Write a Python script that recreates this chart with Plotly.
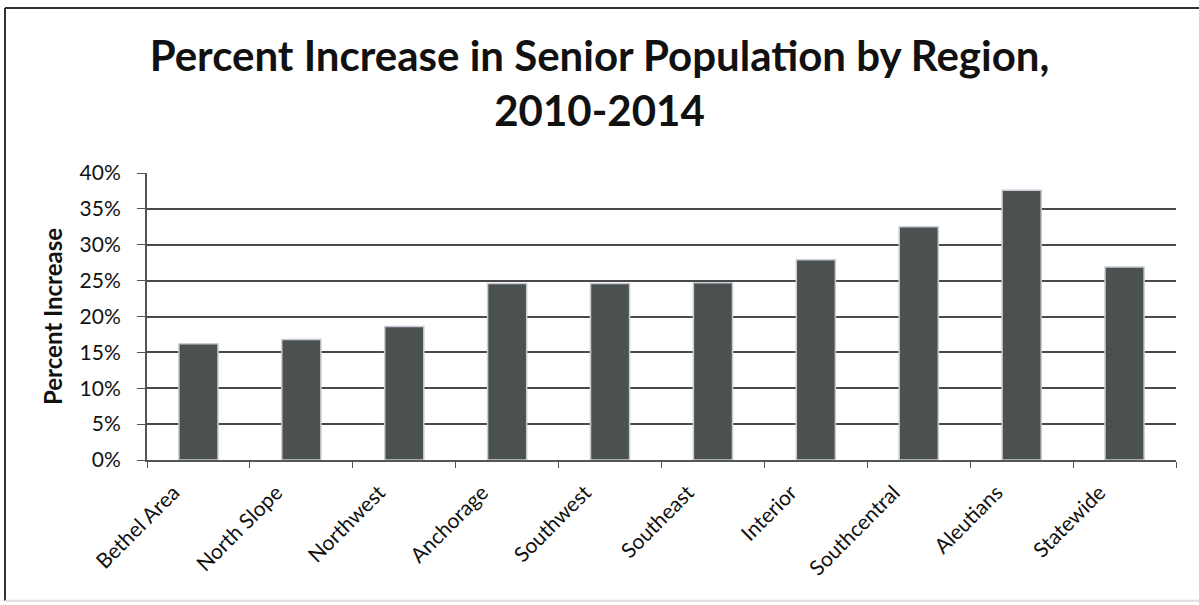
import plotly.graph_objects as go

regions = ["Bethel Area", "North Slope", "Northwest", "Anchorage", "Southwest",
           "Southeast", "Interior", "Southcentral", "Aleutians", "Statewide"]
pct_increase = [0.162, 0.168, 0.186, 0.246, 0.246, 0.247, 0.279, 0.325, 0.376, 0.269]
y_ticks = [0, 0.05, 0.10, 0.15, 0.20, 0.25, 0.30, 0.35, 0.40]

FONT = "Lato, 'Open Sans', sans-serif"

fig = go.Figure(
    data=[
        go.Bar(
            x=regions,
            y=pct_increase,
            width=0.38,
            marker=dict(color="#4b514f", line=dict(color="#c9cbd6", width=1.5)),
        )
    ]
)

# frame around the chart (top and left dark, bottom faint, right runs off the page)
frame = [
    dict(x0=-0.138, x1=1.1, y0=1.575, y1=1.575, color="#333333"),
    dict(x0=-0.138, x1=-0.138, y0=1.575, y1=-0.49, color="#333333"),
    dict(x0=-0.138, x1=1.1, y0=-0.49, y1=-0.49, color="#dddddd"),
]
shapes = [
    dict(type="line", xref="paper", yref="paper",
         x0=f["x0"], x1=f["x1"], y0=f["y0"], y1=f["y1"],
         line=dict(color=f["color"], width=2))
    for f in frame
]

fig.update_layout(
    width=1199,
    height=605,
    margin=dict(l=147, r=23, t=173, b=145, autoexpand=False),
    plot_bgcolor="white",
    paper_bgcolor="white",
    showlegend=False,
    title=dict(
        text="<b>Percent Increase in Senior Population by Region,<br>2010-2014</b>",
        x=0.5,
        xanchor="center",
        yref="container",
        y=0.882,
        yanchor="top",
        font=dict(family=FONT, size=42, color="#111111"),
    ),
    font=dict(family=FONT, color="#111111"),
    shapes=shapes,
)

fig.update_xaxes(
    type="category",
    tickangle=-45,
    tickfont=dict(size=21),
    ticklabelshift=-25,
    ticklabelstandoff=10,
    showline=True,
    linecolor="#555555",
    linewidth=2,
    ticks="outside",
    tickson="boundaries",
    ticklen=6,
    tickcolor="#555555",
    showgrid=False,
    automargin=False,
)

fig.update_yaxes(
    range=[0, 0.40],
    tickvals=y_ticks,
    tickformat=".0%",
    tickfont=dict(size=21),
    ticklabelstandoff=12,
    showline=True,
    linecolor="#555555",
    linewidth=2,
    ticks="outside",
    ticklen=8,
    tickcolor="#555555",
    showgrid=True,
    gridcolor="#4a4a4a",
    gridwidth=2,
    zeroline=False,
    automargin=False,
    title=dict(text="<b>Percent Increase</b>", font=dict(size=24), standoff=10),
)

fig.write_html(
    "out.html",
    config={"displayModeBar": False},
    post_script="document.body.style.margin='0';",
)
